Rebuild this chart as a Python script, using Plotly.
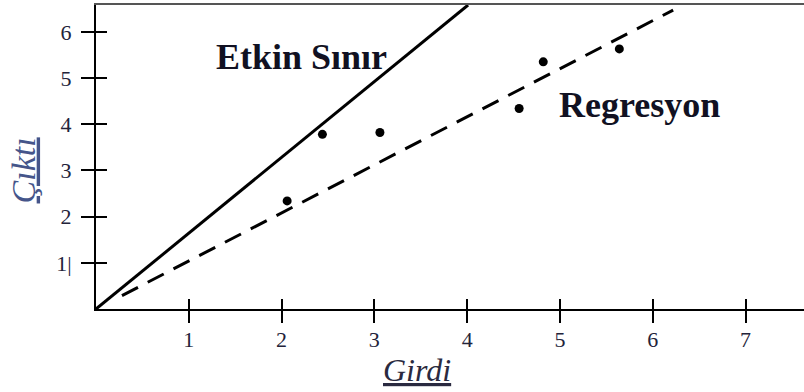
import plotly.graph_objects as go

# data
obs_x = [2.06, 2.44, 3.06, 4.56, 4.82, 5.64]
obs_y = [2.34, 3.78, 3.82, 4.34, 5.35, 5.63]
frontier_x = [0.0, 4.01]
frontier_y = [0.0, 6.58]
reg_x = [0.28, 6.22]
reg_y = [0.29, 6.47]
x_ticks = [1, 2, 3, 4, 5, 6, 7]
y_ticks = [1, 2, 3, 4, 5, 6]
y_ticktext = ["1|", "2", "3", "4", "5", "6"]

X_RANGE = [0, 7.63]
Y_RANGE = [0, 6.58]
SERIF = "Liberation Serif, Times New Roman, serif"
TICKCOL = "#23233a"

fig = go.Figure()
fig.add_trace(go.Scatter(x=frontier_x, y=frontier_y, mode="lines",
                         line=dict(color="black", width=3), showlegend=False, hoverinfo="skip"))
fig.add_trace(go.Scatter(x=reg_x, y=reg_y, mode="lines",
                         line=dict(color="black", width=3, dash="18px,11px"), showlegend=False, hoverinfo="skip"))
fig.add_trace(go.Scatter(x=obs_x, y=obs_y, mode="markers",
                         marker=dict(color="black", size=9), showlegend=False))

fig.update_layout(
    width=804, height=392,
    margin=dict(l=96, r=0, t=5, b=83),
    paper_bgcolor="white", plot_bgcolor="white",
    font=dict(family=SERIF, color=TICKCOL, size=22),
    xaxis=dict(range=X_RANGE, tickvals=x_ticks, showgrid=False, zeroline=False,
               showline=True, linecolor="black", linewidth=2,
               ticks="outside", ticklen=12, tickwidth=2, tickcolor="black",
               ticklabelstandoff=-2,
               tickfont=dict(family=SERIF, size=22, color=TICKCOL)),
    xaxis2=dict(range=X_RANGE, overlaying="x", side="bottom", tickvals=x_ticks,
                showticklabels=False, showgrid=False, zeroline=False, showline=False,
                ticks="inside", ticklen=10, tickwidth=2, tickcolor="black"),
    xaxis3=dict(range=X_RANGE, overlaying="x", side="top", showticklabels=False,
                showgrid=False, zeroline=False, showline=True, linecolor="#555555",
                linewidth=2, ticks=""),
    yaxis=dict(range=Y_RANGE, tickvals=y_ticks, ticktext=y_ticktext, showgrid=False,
               zeroline=False, showline=True, linecolor="black", linewidth=2,
               ticks="outside", ticklen=13, tickwidth=2, tickcolor="black",
               ticklabelstandoff=5,
               tickfont=dict(family=SERIF, size=22, color=TICKCOL)),
    yaxis2=dict(range=Y_RANGE, overlaying="y", side="left", tickvals=y_ticks,
                showticklabels=False, showgrid=False, zeroline=False, showline=False,
                ticks="inside", ticklen=11, tickwidth=2, tickcolor="black"),
)

# invisible traces to activate overlay axes
fig.add_trace(go.Scatter(x=[None], y=[None], xaxis="x2", yaxis="y2", showlegend=False))
fig.add_trace(go.Scatter(x=[None], y=[None], xaxis="x3", yaxis="y", showlegend=False))

fig.add_annotation(x=2.21, y=5.45, xref="x", yref="y", text="<b>Etkin Sınır</b>",
                   showarrow=False, font=dict(family=SERIF, size=36, color="#111122"))
fig.add_annotation(x=5.86, y=4.42, xref="x", yref="y", text="<b>Regresyon</b>",
                   showarrow=False, font=dict(family=SERIF, size=36, color="#111122"))
fig.add_annotation(x=3.46, y=-0.2, xref="x", yref="paper", text="<i><u>Girdi</u></i>",
                   xanchor="center", yanchor="middle",
                   showarrow=False, font=dict(family=SERIF, size=32, color="#2a2a40"))
fig.add_annotation(x=-0.103, y=3.0, xref="paper", yref="y", text="<i><u>Çıktı</u></i>",
                   xanchor="center", yanchor="middle",
                   textangle=-90, showarrow=False, font=dict(family=SERIF, size=34, color="#45558a"))

fig.write_html("out.html")
